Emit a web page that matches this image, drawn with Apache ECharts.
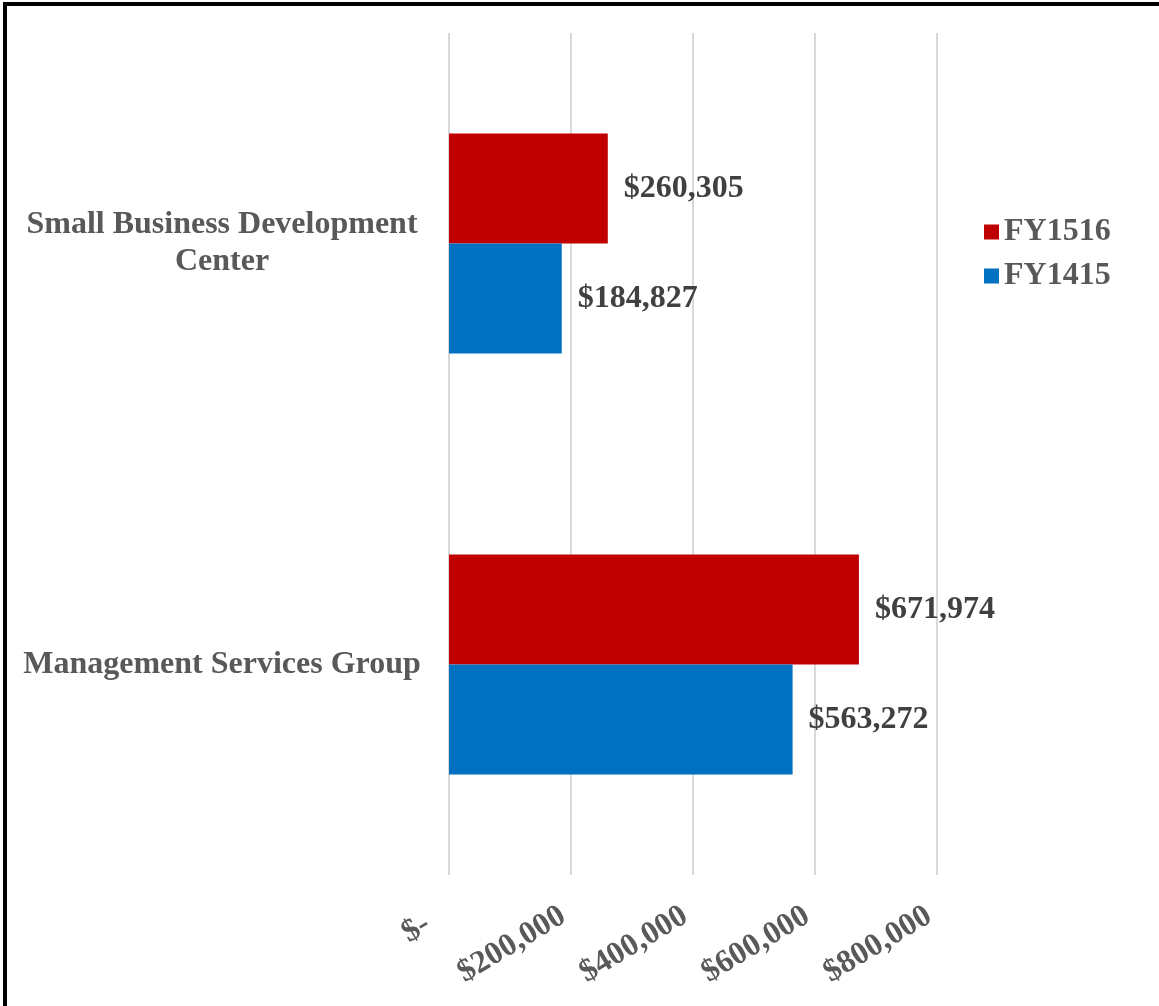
<!DOCTYPE html>
<html>
<head>
<meta charset="utf-8">
<script src="https://cdn.jsdelivr.net/npm/echarts@6/dist/echarts.min.js"></script>
<style>
html,body{margin:0;padding:0;background:#fff;}
#wrap{position:absolute;left:3px;top:2px;width:1156px;height:1004px;border-left:4px solid #000;border-top:4px solid #000;box-sizing:border-box;}
#chart{position:absolute;left:0;top:0;width:1159px;height:1006px;}
</style>
</head>
<body>
<div id="wrap"></div>
<div id="chart"></div>
<script>
const categories = ['Management Services Group', 'Small Business Development Center'];
const fy1415 = [563272, 184827];
const fy1516 = [671974, 260305];
const seriesNames = ['FY1516', 'FY1415'];
const xTicks = [0, 200000, 400000, 600000, 800000];

function money(v){
  if (v === 0) return '$-';
  return '$' + v.toLocaleString('en-US');
}

const chart = echarts.init(document.getElementById('chart'));
const font = '"Liberation Serif", "Times New Roman", serif';
const dataLabel = {show: true, position: 'right', distance: 16, fontFamily: font, fontWeight: 'bold', fontSize: 32, color: '#404040', formatter: p => money(p.value)};
chart.setOption({
  backgroundColor: 'transparent',
  animation: false,
  grid: {left: 449, right: 222, top: 33, bottom: 131, containLabel: false},
  legend: {
    data: seriesNames,
    orient: 'vertical',
    left: 984,
    top: 216,
    padding: 0,
    itemWidth: 15,
    itemHeight: 15,
    itemGap: 12,
    icon: 'rect',
    textStyle: {fontFamily: font, fontWeight: 'bold', fontSize: 32, color: '#595959'}
  },
  xAxis: {
    type: 'value',
    min: xTicks[0],
    max: xTicks[xTicks.length - 1],
    interval: xTicks[1] - xTicks[0],
    axisLine: {show: false},
    axisTick: {show: false},
    splitLine: {lineStyle: {color: '#d9d9d9', width: 2}},
    axisLabel: {
      rotate: 31,
      margin: 34,
      padding: [0, 9, 0, 0],
      fontFamily: font,
      fontWeight: 'bold',
      fontSize: 32,
      color: '#595959',
      formatter: function(v){ return v === 0 ? money(v) + '  ' : money(v); }
    }
  },
  yAxis: {
    type: 'category',
    data: categories,
    axisLine: {show: false},
    axisTick: {show: false},
    axisLabel: {
      margin: 227,
      align: 'center',
      fontFamily: font,
      fontWeight: 'bold',
      fontSize: 32,
      lineHeight: 37,
      color: '#595959',
      formatter: function(v){
        return v === 'Small Business Development Center' ? 'Small Business Development\nCenter' : v;
      }
    }
  },
  series: [
    {
      name: 'FY1516',
      type: 'bar',
      data: fy1516,
      barGap: '0%',
      barCategoryGap: '47.7%',
      itemStyle: {color: '#C00000'},
      label: dataLabel
    },
    {
      name: 'FY1415',
      type: 'bar',
      data: fy1415,
      barGap: '0%',
      barCategoryGap: '47.7%',
      itemStyle: {color: '#0070C0'},
      label: dataLabel
    }
  ]
});
</script>
</body>
</html>
